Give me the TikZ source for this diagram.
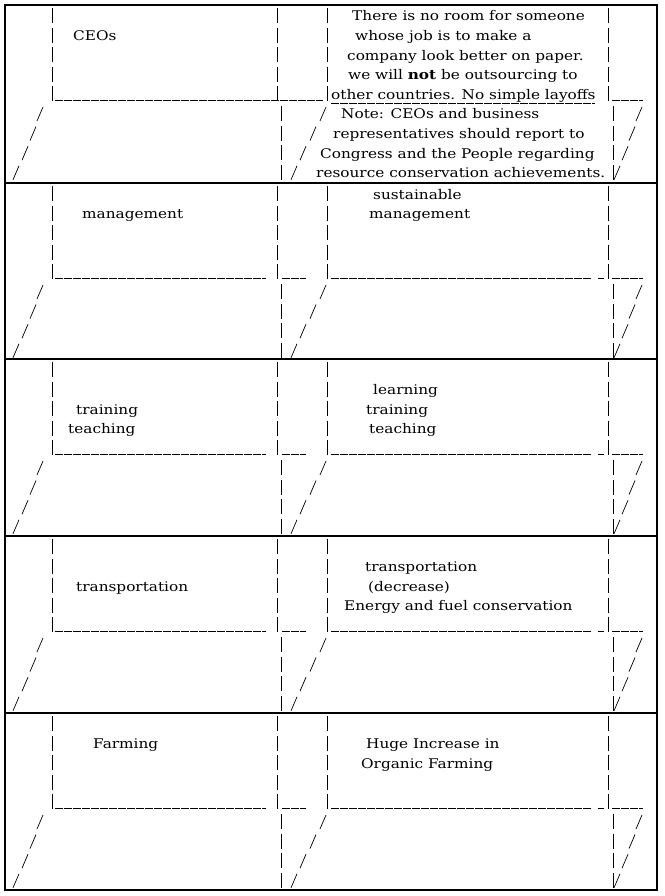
\documentclass[tikz,border=0pt]{standalone}
\usepackage{fontspec}
\setmainfont[FakeStretch=1.15]{DejaVu Serif}
\begin{document}
\begin{tikzpicture}[x=1pt,y=-1pt,
  bar/.style={line width=0.7pt},
  uline/.style={line width=0.8pt,dash pattern=on 8pt off 1pt},
  frame/.style={line width=1.6pt},
  txt/.style={anchor=base west,inner sep=0pt,font=\fontsize{13.3}{15}\selectfont}]
\useasboundingbox (0,0) rectangle (664,896);
% bars and slashes per panel
\foreach \T [count=\p] in {5,183,359,536,713}{
  \foreach \k in {1,...,5}{
    \pgfmathsetmacro\yc{\T+12+19.6*(\k-1)}
    \foreach \xx in {52,277,327,608}{\draw[bar] (\xx,\yc-9) -- (\xx,\yc+6);}
  }
  \foreach \k/\a/\b/\c in {6/40/323/639,7/33/313/632,8/25/303/625,9/16/294/617}{
    \pgfmathsetmacro\yc{\T+12+19.6*(\k-1)}
    \draw[bar] (\a-3,\yc+6) -- (\a+3,\yc-8);
    \draw[bar] (\b-3,\yc+6) -- (\b+3,\yc-8);
    \draw[bar] (\c-3,\yc+6) -- (\c+3,\yc-8);
    \draw[bar] (281,\yc-9) -- (281,\yc+6);
    \draw[bar] (613,\yc-9) -- (613,\yc+6);
  }
  \pgfmathsetmacro\yu{\T+12+19.6*4+5}
  \ifnum\p=1
    \draw[uline] (55,\yu) -- (323,\yu);
    \draw[uline] (331,\yu+3) -- (595,\yu+3);
  \else
    \draw[uline] (55,\yu) -- (266,\yu);
    \draw[uline] (282,\yu) -- (306,\yu);
    \draw[uline] (331,\yu) -- (591,\yu);
    \draw[uline] (598,\yu) -- (604,\yu);
  \fi
  \draw[uline] (612,\yu) -- (643,\yu);
}
% frames
\draw[frame] (5,5) rectangle (657,890);
\foreach \T in {183,359,536,713}{\draw[frame] (5,\T) -- (657,\T);}
% texts: baseline = T+16+19.6(k-1)
\newcommand\tx[4]{\pgfmathsetmacro\yb{#2+16+19.6*(#3-1)}\node[txt] at (#1,\yb) {#4};}
\tx{73}{5}{2}{CEOs}
\tx{352}{5}{1}{There is no room for someone}
\tx{355}{5}{2}{whose job is to make a}
\tx{347}{5}{3}{company look better on paper.}
\tx{348}{5}{4}{we will \textbf{not} be outsourcing to}
\tx{331}{5}{5}{other countries. No simple layoffs}
\tx{341}{5}{6}{Note: CEOs and business}
\tx{333}{5}{7}{representatives should report to}
\tx{320}{5}{8}{Congress and the People regarding}
\tx{316}{5}{9}{resource conservation achievements.}
\tx{82}{183}{2}{management}
\tx{373}{183}{1}{sustainable}
\tx{369}{183}{2}{management}
\tx{76}{359}{3}{training}
\tx{68}{359}{4}{teaching}
\tx{373}{359}{2}{learning}
\tx{366}{359}{3}{training}
\tx{369}{359}{4}{teaching}
\tx{76}{536}{3}{transportation}
\tx{365}{536}{2}{transportation}
\tx{368}{536}{3}{(decrease)}
\tx{344}{536}{4}{Energy and fuel conservation}
\tx{93}{713}{2}{Farming}
\tx{366}{713}{2}{Huge Increase in}
\tx{361}{713}{3}{Organic Farming}
\end{tikzpicture}
\end{document}
